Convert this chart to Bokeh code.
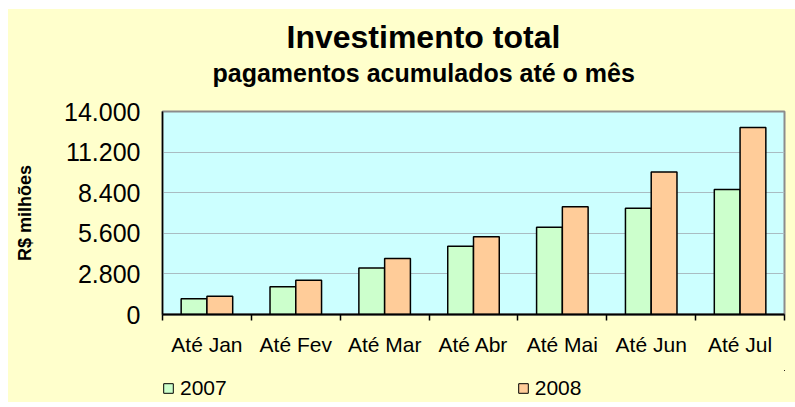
from bokeh.plotting import figure
from bokeh.models import ColumnDataSource, Range1d, FixedTicker, Title, Legend, LegendItem
from bokeh.layouts import column
from bokeh.transform import dodge
from bokeh.embed import file_html
from bokeh.resources import INLINE

categories = ["Até Jan", "Até Fev", "Até Mar", "Até Abr", "Até Mai", "Até Jun", "Até Jul"]
series = ["2007", "2008"]
v2007 = [1080, 1910, 3200, 4710, 6020, 7330, 8620]
v2008 = [1260, 2370, 3860, 5360, 7430, 9820, 12900]
yticks = [0, 2800, 5600, 8400, 11200, 14000]
ytick_labels = ["0", "2.800", "5.600", "8.400", "11.200", "14.000"]

FONT = "Liberation Sans"
BG = "#FFFFCC"
C07 = "#CCFFCC"
C08 = "#FFCC99"

src = ColumnDataSource(dict(pos=list(range(len(categories))), cat=categories, a=v2007, b=v2008))

p = figure(width=787, height=361, x_range=Range1d(-0.5, len(categories) - 0.5),
           y_range=Range1d(0, 14000), output_backend="svg", toolbar_location=None,
           min_border_left=154, min_border_right=11, min_border_top=102, min_border_bottom=56,
           title="Investimento total")

p.border_fill_color = BG
p.background_fill_color = "#CCFFFF"
p.outline_line_color = "#8C8C8C"
p.outline_line_width = 2

# main title (outermost)
p.title.align = "left"
p.title.vertical_align = "top"
p.title.offset = 124
p.title.text_font = FONT
p.title.text_font_size = "32px"
p.title.text_font_style = "bold"
p.title.text_color = "black"
p.title.standoff = 0

# spacer closest to frame, then subtitle
p.add_layout(Title(text=" ", text_font_size="1px", text_color=BG, standoff=22), "above")
p.add_layout(Title(text="pagamentos acumulados até o mês", align="left", offset=50,
                   text_font=FONT, text_font_size="25px", text_font_style="bold",
                   text_color="black", standoff=0), "above")

w = 0.29
p.vbar(x=dodge("pos", -w / 2, range=p.x_range), top="a", width=w, source=src,
       fill_color=C07, line_color="black", line_width=1.5)
p.vbar(x=dodge("pos", w / 2, range=p.x_range), top="b", width=w, source=src,
       fill_color=C08, line_color="black", line_width=1.5)

# grid
p.xgrid.grid_line_color = None
p.ygrid.ticker = FixedTicker(ticks=yticks)
p.ygrid.grid_line_color = "#A9BCC2"
p.ygrid.grid_line_width = 1

# y axis
ya = p.yaxis[0]
ya.ticker = FixedTicker(ticks=yticks)
ya.major_label_overrides = {t: l for t, l in zip(yticks, ytick_labels)}
ya.major_label_text_font = FONT
ya.major_label_text_font_size = "25px"
ya.major_label_text_color = "black"
ya.major_label_standoff = 22
ya.major_tick_out = 0
ya.major_tick_in = 0
ya.minor_tick_out = 0
ya.minor_tick_in = 0
ya.axis_line_color = "black"
ya.axis_line_width = 1.5
ya.axis_label = "R$ milhões"
ya.axis_label_text_font = FONT
ya.axis_label_text_font_size = "18px"
ya.axis_label_text_font_style = "bold"
ya.axis_label_text_color = "black"
ya.axis_label_standoff = 26

# x axis
xa = p.xaxis[0]
xa.ticker = FixedTicker(ticks=list(range(len(categories))),
                        minor_ticks=[i - 0.5 for i in range(len(categories) + 1)])
xa.major_label_overrides = {i: c for i, c in enumerate(categories)}
xa.major_label_text_font = FONT
xa.major_label_text_font_size = "21px"
xa.major_label_text_color = "black"
xa.major_label_standoff = 12
xa.major_tick_out = 0
xa.major_tick_in = 0
xa.minor_tick_out = 6
xa.minor_tick_in = 0
xa.minor_tick_line_color = "black"
xa.minor_tick_line_width = 1.5
xa.axis_line_color = "black"
xa.axis_line_width = 2

# legend strip below the chart (its frame lines up with the chart's frame)
lp = figure(width=787, height=32, x_range=Range1d(-100, -99), y_range=Range1d(-100000, -99999),
            output_backend="svg", toolbar_location=None,
            min_border=0, min_border_left=0, min_border_right=0,
            min_border_top=0, min_border_bottom=0)
lp.border_fill_color = BG
lp.background_fill_color = BG
lp.outline_line_color = None
lp.axis.visible = False
lp.grid.visible = False
# same series, kept outside the strip's view: only their legend swatches show
lr1 = lp.vbar(x="pos", top="a", width=w, source=src, fill_color=C07, line_color="black")
lr2 = lp.vbar(x="pos", top="b", width=w, source=src, fill_color=C08, line_color="black")
legend = Legend(items=[LegendItem(label=series[0], renderers=[lr1]),
                       LegendItem(label=series[1], renderers=[lr2])],
                orientation="horizontal", location=(0, 2),
                label_text_font=FONT, label_text_font_size="21px", label_text_color="black",
                glyph_width=12, glyph_height=12, label_standoff=6, spacing=290,
                padding=0, margin=0, border_line_color=None, background_fill_alpha=0)
lp.add_layout(legend, "center")

layout = column(p, lp, spacing=0)
layout.margin = (9, 0, 0, 8)
layout.styles = {"background-color": BG}

open("out.html", "w").write(file_html(layout, INLINE))
